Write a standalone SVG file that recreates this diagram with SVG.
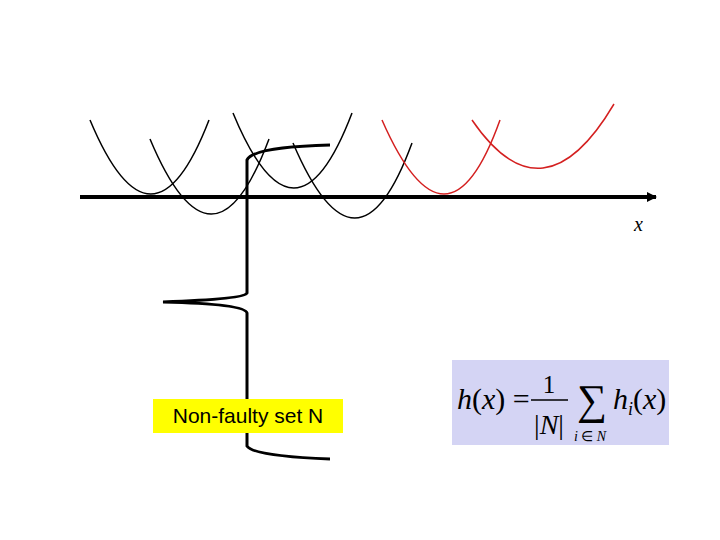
<svg xmlns="http://www.w3.org/2000/svg" width="720" height="540" viewBox="0 0 720 540">
<style>
.p{fill:none;stroke-width:1.5}
.b{stroke:#000}.r{stroke:#d42020}
.m{font-family:"Liberation Serif",serif;font-style:italic}
.n{font-family:"Liberation Serif",serif}
</style>
<defs><marker id="a" markerWidth="10" markerHeight="10" refX="9" refY="5" orient="auto" markerUnits="userSpaceOnUse"><path d="M0,0 L10,5 L0,10 Z"/></marker></defs>
<rect width="720" height="540" fill="#fff"/>
<g id="curves">
<path class="p b" d="M90,120 Q152,268 209,120"/>
<path class="p b" d="M150,139 Q213,289 269,139"/>
<path class="p b" d="M233,113 Q295,263 352,113"/>
<path class="p b" d="M293,143 Q357,293 412,143"/>
<path class="p r" d="M382,120 Q447,268 500,120"/>
<path class="p r" d="M472,120 Q543,224 614,104"/>
</g>
<g id="axis"><line x1="80" y1="197" x2="656" y2="197" stroke="#000" stroke-width="4" marker-end="url(#a)"/>
<text x="634" y="231" class="m" font-size="20">x</text></g>
<g id="brace"><path d="M330,145 Q253,147 247,160 L247,293 Q245,299 163,302 Q245,304 247,313 L247,446 Q253,456 330,459" fill="none" stroke="#000" stroke-width="3"/></g>
<g id="label"><rect x="153" y="399" width="190" height="34" fill="#ffff00"/>
<text x="248" y="423" text-anchor="middle" font-family="Liberation Sans,Arial,sans-serif" font-size="21">Non-faulty set N</text></g>
<g id="formula"><rect x="452" y="360" width="217" height="85" fill="#d4d4f4"/>
<text x="457" y="409" class="n" font-size="30"><tspan class="m">h</tspan>(<tspan class="m">x</tspan>) =</text>
<text x="549" y="393" class="n" font-size="25" text-anchor="middle">1</text>
<line x1="531" y1="400" x2="568" y2="400" stroke="#000" stroke-width="1.5"/>
<text x="549" y="434" class="n" font-size="28" text-anchor="middle">|<tspan class="m">N</tspan>|</text>
<text x="592" y="414" class="n" font-size="42" text-anchor="middle">∑</text>
<text x="590" y="441" class="n" font-size="14" text-anchor="middle"><tspan class="m">i</tspan> ∈ <tspan class="m">N</tspan></text>
<text x="613" y="409" class="n" font-size="30"><tspan class="m">h</tspan><tspan class="m" font-size="18" dy="6">i</tspan><tspan dy="-6">(</tspan><tspan class="m">x</tspan>)</text></g>
</svg>
